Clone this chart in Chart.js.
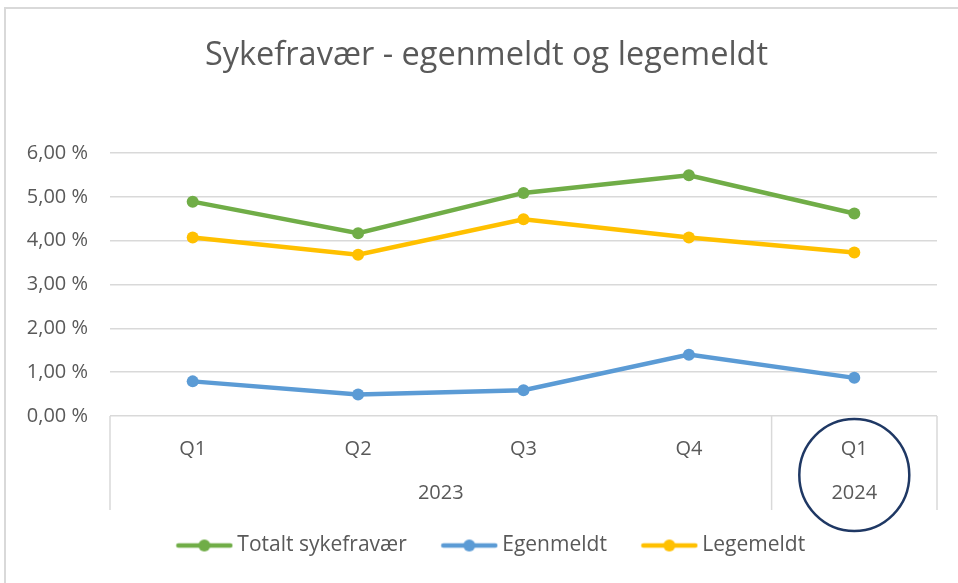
<!DOCTYPE html>
<html>
<head>
<meta charset="utf-8">
<script src="https://cdn.jsdelivr.net/npm/chart.js@4"></script>
<style>
  html, body { margin: 0; padding: 0; background: #fff; }
  #wrap { width: 958px; height: 583px; }
</style>
</head>
<body>
<div id="wrap"><canvas id="graf" width="958" height="583"></canvas></div>
<script>
const kvartaler = ["Q1", "Q2", "Q3", "Q4", "Q1"];
const aar = ["2023", "2024"];
const aarAntall = [4, 1];
const totalt = [4.89, 4.17, 5.09, 5.49, 4.62];
const egenmeldt = [0.79, 0.49, 0.59, 1.40, 0.87];
const legemeldt = [4.07, 3.68, 4.49, 4.07, 3.73];
const yTicks = [0, 1, 2, 3, 4, 5, 6];

const FONT = "'Open Sans', Lato, sans-serif";
const GRAA = "#595959";
const LINJE = "#d9d9d9";

function formaterPct(v) {
  return v.toFixed(2).replace(".", ",") + " %";
}

// liten strek med prikk, som i Excel-legenden
function legendeSymbol(farge) {
  const c = document.createElement("canvas");
  c.width = 58;
  c.height = 14;
  const ctx = c.getContext("2d");
  ctx.strokeStyle = farge;
  ctx.lineWidth = 4.5;
  ctx.lineCap = "round";
  ctx.beginPath();
  ctx.moveTo(3, 7);
  ctx.lineTo(55, 7);
  ctx.stroke();
  ctx.fillStyle = farge;
  ctx.beginPath();
  ctx.arc(29, 7, 6, 0, Math.PI * 2);
  ctx.fill();
  return c;
}

const rammePlugin = {
  id: "ramme",
  afterLayout(chart) {
    // tittel og legende står litt til høyre for midten i originalen
    chart.titleBlock.left += 9;
    chart.titleBlock.right += 9;
    chart.legend.left += 16;
    chart.legend.right += 16;
  },
  beforeDraw(chart) {
    const ctx = chart.ctx;
    ctx.save();
    ctx.fillStyle = "#fff";
    ctx.fillRect(0, 0, chart.width, chart.height);
    ctx.strokeStyle = LINJE;
    ctx.lineWidth = 2;
    ctx.beginPath();
    ctx.moveTo(5, chart.height);
    ctx.lineTo(5, 8);
    ctx.lineTo(chart.width, 8);
    ctx.stroke();
    ctx.restore();
  },
  afterDraw(chart) {
    const ctx = chart.ctx;
    const x = chart.scales.x;
    const area = chart.chartArea;
    const halv = (x.getPixelForValue(1) - x.getPixelForValue(0)) / 2;
    const bunn = 510;
    ctx.save();
    ctx.strokeStyle = LINJE;
    ctx.lineWidth = 1.5;
    ctx.font = "20px " + FONT;
    ctx.fillStyle = GRAA;
    ctx.textAlign = "center";
    ctx.textBaseline = "middle";
    let start = 0;
    const grenser = [area.left];
    aar.forEach((a, i) => {
      const slutt = start + aarAntall[i] - 1;
      const venstre = x.getPixelForValue(start) - halv;
      const hoyre = x.getPixelForValue(slutt) + halv;
      grenser.push(hoyre);
      ctx.fillText(a, (venstre + hoyre) / 2, 493);
      start = slutt + 1;
    });
    grenser.forEach((gx) => {
      ctx.beginPath();
      ctx.moveTo(gx, area.bottom);
      ctx.lineTo(gx, bunn);
      ctx.stroke();
    });
    // markering rundt siste kvartal
    const cx = x.getPixelForValue(kvartaler.length - 1);
    ctx.strokeStyle = "#1f3864";
    ctx.lineWidth = 2.5;
    ctx.beginPath();
    ctx.ellipse(cx, 475, 55, 56, 0, 0, Math.PI * 2);
    ctx.stroke();
    ctx.restore();
  },
};

const serier = [
  { label: "Totalt sykefravær", data: totalt, farge: "#70ad47" },
  { label: "Egenmeldt", data: egenmeldt, farge: "#5b9bd5" },
  { label: "Legemeldt", data: legemeldt, farge: "#ffc000" },
];

new Chart(document.getElementById("graf"), {
  type: "line",
  data: {
    labels: kvartaler,
    datasets: serier.map((s) => ({
      label: s.label,
      data: s.data,
      borderColor: s.farge,
      backgroundColor: s.farge,
      borderWidth: 4.5,
      pointStyle: "circle",
      pointRadius: 6,
      pointHoverRadius: 6,
      pointBorderWidth: 0,
      tension: 0,
    })),
  },
  options: {
    responsive: false,
    animation: false,
    devicePixelRatio: 1,
    layout: { padding: { top: 0, left: 18, right: 21, bottom: 17 } },
    plugins: {
      title: {
        display: true,
        text: "Sykefravær - egenmeldt og legemeldt",
        color: GRAA,
        font: { family: FONT, size: 32.5, weight: "normal" },
        padding: { top: 36, bottom: 78 },
      },
      legend: {
        position: "bottom",
        labels: {
          usePointStyle: true,
          pointStyleWidth: 45,
          padding: 40,
          color: GRAA,
          font: { family: FONT, size: 21 },
          generateLabels(chart) {
            return chart.data.datasets.map((d, i) => ({
              text: d.label,
              pointStyle: legendeSymbol(d.borderColor),
              fillStyle: d.borderColor,
              strokeStyle: d.borderColor,
              lineWidth: 0,
              fontColor: GRAA,
              hidden: false,
              datasetIndex: i,
            }));
          },
        },
      },
      tooltip: { enabled: false },
    },
    scales: {
      x: {
        offset: true,
        grid: { display: false, drawTicks: false },
        border: { display: false },
        ticks: { color: GRAA, font: { family: FONT, size: 20 }, padding: 21, maxRotation: 0 },
        afterFit(s) { s.height = 79; },
      },
      y: {
        min: 0,
        max: 6,
        afterBuildTicks(s) { s.ticks = yTicks.map((v) => ({ value: v })); },
        grid: { color: LINJE, lineWidth: 1.5, drawTicks: false },
        border: { display: false },
        ticks: {
          color: GRAA,
          font: { family: FONT, size: 20 },
          padding: 22,
          callback: (v) => formaterPct(v),
        },
        afterFit(s) { s.width = 92; },
      },
    },
  },
  plugins: [rammePlugin],
});
</script>
</body>
</html>
